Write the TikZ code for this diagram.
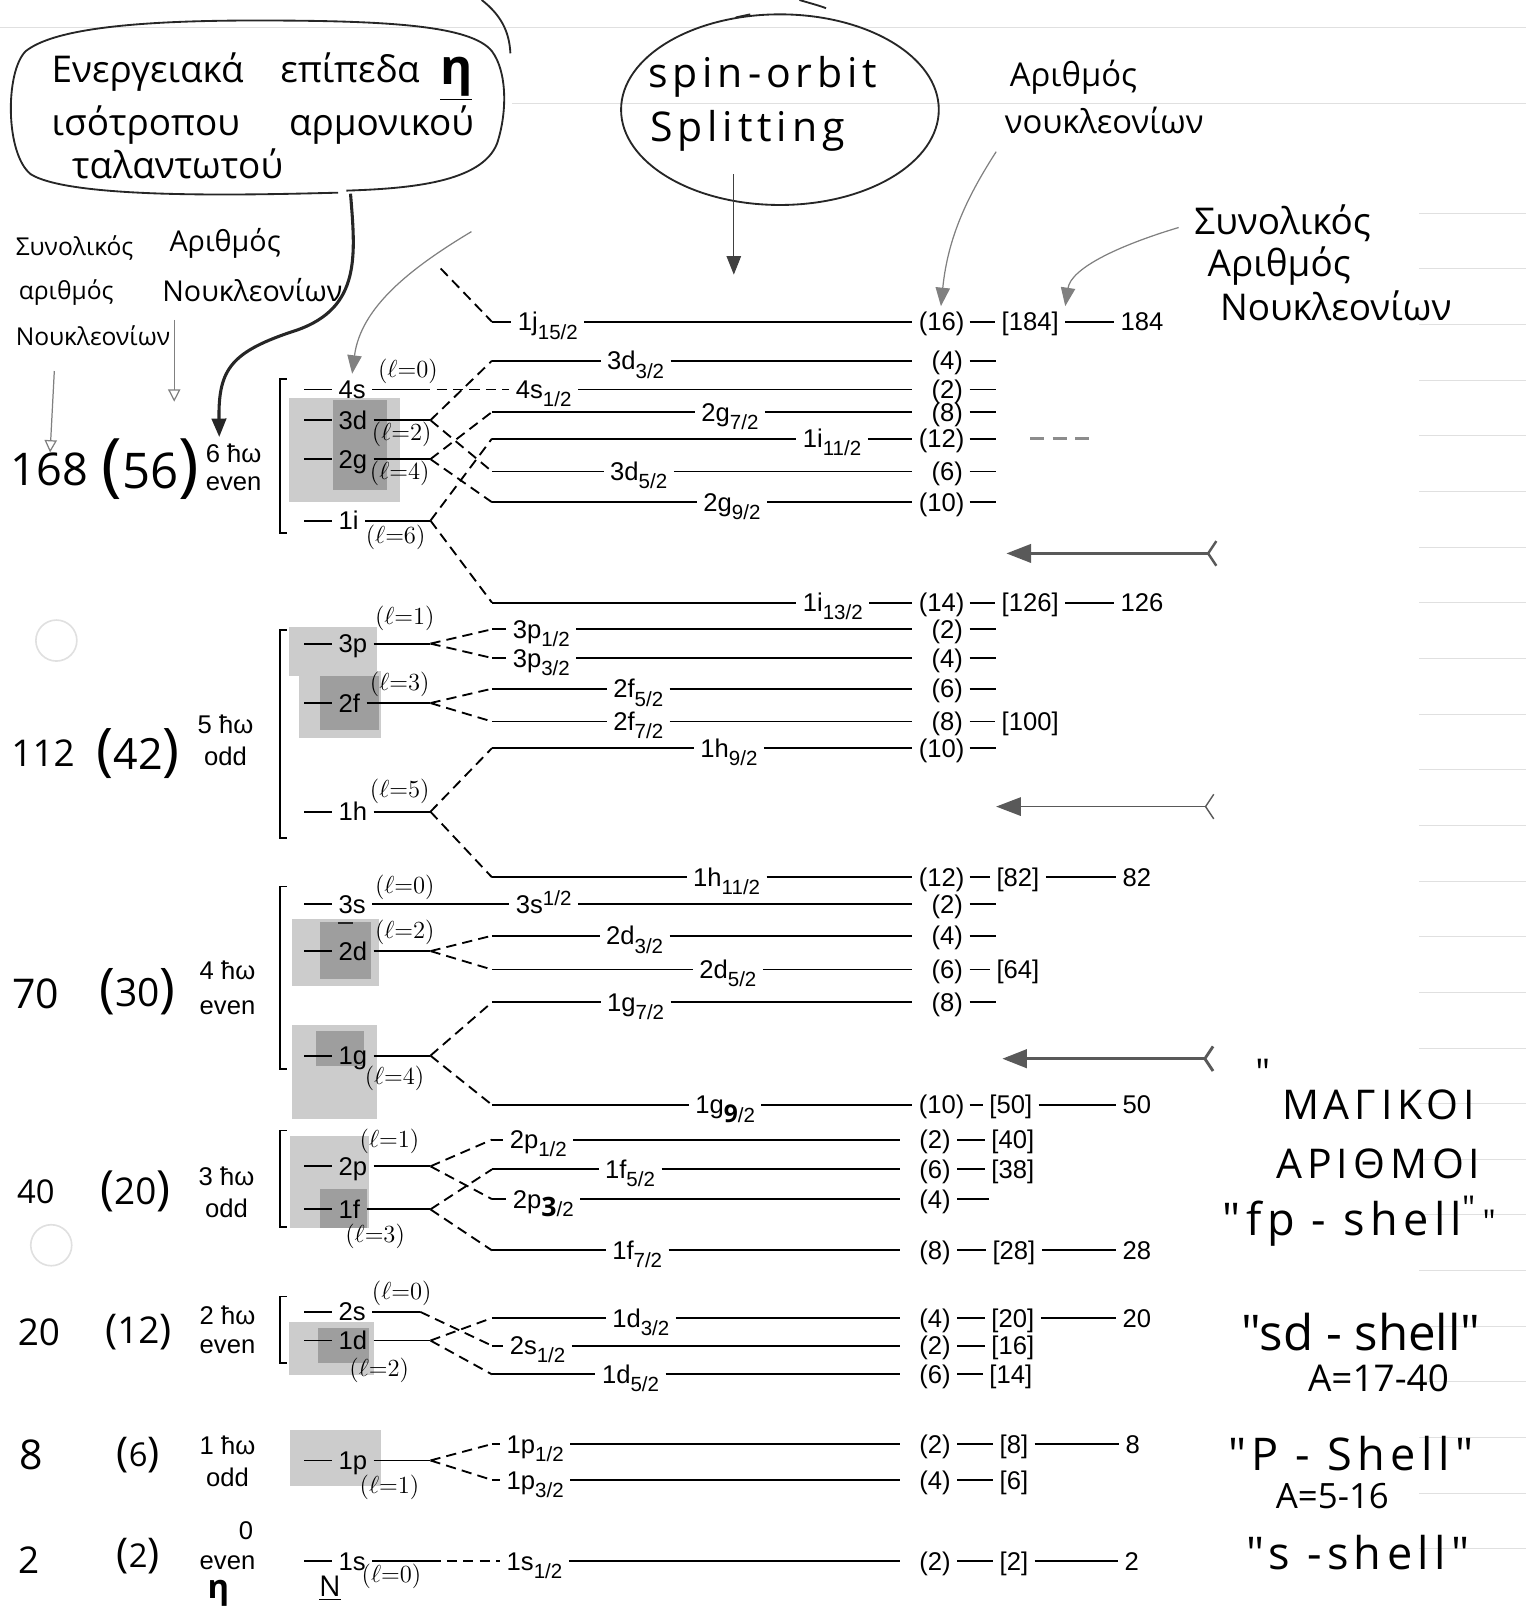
\documentclass[tikz,border=0pt]{standalone}
\usepackage{fontspec}
\setmainfont{Liberation Sans}
\newfontfamily\handfont{Open Sans}
\newfontfamily\handwide{Open Sans}[LetterSpace=12]
\usetikzlibrary{arrows.meta, positioning}

\newcommand{\prt}{\fontsize{12.5}{15}\selectfont}
\newcommand{\subs}[1]{\raisebox{-4pt}{\fontsize{10}{10}\selectfont #1}}
\newcommand{\sups}[1]{\raisebox{3.5pt}{\fontsize{10}{10}\selectfont #1}}
\newcommand{\lval}[1]{$(\ell{=}#1)$}
\newcommand{\hpar}[2]{{\fontsize{#1}{#1}\selectfont #2}}

\tikzset{
  orb/.style={font=\prt, inner sep=3pt, text height=8.9pt, text depth=0pt, anchor=west},
  cnt/.style={orb, anchor=east, text width=21.5pt, align=right},
  lvl/.style={line width=0.9pt},
  spl/.style={line width=0.9pt, dash pattern=on 5pt off 3pt},
  lnote/.style={font=\fontsize{12}{12}\selectfont, inner sep=0pt},
  hw/.style={font=\handfont\fontsize{#1}{#1}\selectfont, inner sep=0pt, anchor=west},
  hwc/.style={font=\handfont\fontsize{#1}{#1}\selectfont, inner sep=0pt},
  hwide/.style={font=\handwide\fontsize{#1}{#1}\selectfont, inner sep=0pt},
  shellE/.style={font=\prt, inner sep=0pt},
  patchL/.style={fill=black!20},
  patchD/.style={fill=black!38},
  ink/.style={line width=0.9pt, black!85},
  pencil/.style={line width=0.6pt, black!50},
  rule/.style={line width=0.4pt, black!12},
  tipD/.style={-{Triangle[length=9pt,width=7pt]}},
  tipO/.style={-{Triangle[open,length=6pt,width=6pt]}},
  bigarrow/.style={black!65, {Straight Barb[reversed,length=4pt,width=12pt]}-{Triangle[length=12pt,width=9pt]}},
}

\begin{document}
\begin{tikzpicture}[x=0.5pt, y=-0.5pt]
  \useasboundingbox (0,0) rectangle (1489,1568);
  %% notebook ruling and punch holes
  \draw[rule] (0,27) -- (1489,27);
  \draw[rule] (500,101) -- (1489,101);
  \foreach \yy in {208,262.3,...,1513} \draw[rule] (1385,\yy) -- (1489,\yy);
  \draw[rule, line width=0.8pt] (55,625) circle (20);
  \draw[rule, line width=0.8pt] (50,1215) circle (20);

  %% highlighter patches
  \fill[patchL] (282,388) rectangle (390,490);
  \fill[patchD] (325,390) rectangle (378,478);
  \fill[patchL] (282,612) rectangle (368,660);
  \fill[patchL] (292,655) rectangle (372,720);
  \fill[patchD] (312,660) rectangle (370,712);
  \fill[patchL] (285,897) rectangle (370,962);
  \fill[patchD] (312,900) rectangle (362,955);
  \fill[patchL] (285,1000) rectangle (368,1092);
  \fill[patchD] (308,1006) rectangle (355,1040);
  \fill[patchL] (283,1108) rectangle (360,1198);
  \fill[patchD] (312,1160) rectangle (358,1198);
  \fill[patchL] (282,1290) rectangle (365,1342);
  \fill[patchD] (310,1296) rectangle (360,1330);
  \fill[patchL] (283,1395) rectangle (372,1450);

  %% callouts
  \draw[ink] (338,186) .. controls (400,184) and (470,178) .. (485,140)
     .. controls (495,110) and (495,70) .. (480,50)
     .. controls (460,25) and (380,20) .. (250,20)
     .. controls (120,20) and (50,30) .. (25,50)
     .. controls (5,70) and (5,150) .. (30,170)
     .. controls (70,195) and (250,190) .. (330,188);
  \draw[ink] (470,0) .. controls (488,14) and (497,30) .. (498,52);
  \draw[ink] (761,107) ellipse (155 and 93);
  \draw[ink] (780,0) .. controls (790,3) and (798,5) .. (806,8);
  \draw[ink] (718,17) -- (732,14);
  \node[hw=18] (ttlA) at (50,75) {Ενεργειακά\hspace{18pt}επίπεδα\hspace{10pt}\raisebox{-1pt}{\fontsize{24}{24}\selectfont\underline{\textbf{η}}}};
  \node[hw=18] (ttlB) at (50,122) {ισότροπου\hspace{24pt}αρμονικού};
  \node[hw=18] (ttlC) at (70,160) {ταλαντωτού};
  \node[hwide=20, anchor=west] (soA) at (632,75) {spin-orbit};
  \node[hwide=20, anchor=west] (soB) at (634,128) {Splitting};

  %% column headings
  \node[hw=12] (totA) at (15,242) {Συνολικός};
  \node[hw=12] (totB) at (18,285) {αριθμός};
  \node[hw=12] (totC) at (15,328) {Νουκλεονίων};
  \node[hw=14] (numA) at (165,237) {Αριθμός};
  \node[hw=14] (numB) at (158,283) {Νουκλεονίων};
  \node[hw=16] (rnA) at (985,75) {Αριθμός};
  \node[hw=16] (rnB) at (980,118) {νουκλεονίων};
  \node[hw=18] (rtA) at (1165,218) {Συνολικός};
  \node[hw=18] (rtB) at (1178,260) {Αριθμός};
  \node[hw=18] (rtC) at (1190,298) {Νουκλεονίων};

  %% oscillator shells: totals, degeneracies, N and parity
  \node[hwc=22] (n168) at (48,458) {168};
  \node[hwc=24] (p56) at (147,458) {\hpar{34}{(}56\hpar{34}{)}};
  \node[shellE] (hw6) at (228,442) {6 ħω};
  \node[shellE] (pa6) at (228,472) {even};
  \node[hwc=18] (n112) at (42,735) {112};
  \node[hwc=21] (p42) at (135,735) {\hpar{28}{(}42\hpar{28}{)}};
  \node[shellE] (hw5) at (220,707) {5 ħω};
  \node[shellE] (pa5) at (220,738) {odd};
  \node[hwc=20] (n70) at (35,970) {70};
  \node[hwc=19] (p30) at (134,968) {\hpar{26}{(}30\hpar{26}{)}};
  \node[shellE] (hw4) at (222,947) {4 ħω};
  \node[shellE] (pa4) at (222,983) {even};
  \node[hwc=16] (n40) at (35,1163) {40};
  \node[hwc=18] (p20) at (132,1162) {\hpar{23}{(}20\hpar{23}{)}};
  \node[shellE] (hw3) at (221,1148) {3 ħω};
  \node[shellE] (pa3) at (221,1179) {odd};
  \node[hwc=18] (n20) at (38,1300) {20};
  \node[hwc=18] (p12) at (135,1300) {\hpar{20}{(}12\hpar{20}{)}};
  \node[shellE] (hw2) at (222,1283) {2 ħω};
  \node[shellE] (pa2) at (222,1314) {even};
  \node[hwc=20] (n8) at (30,1420) {8};
  \node[hwc=16] (p6) at (135,1420) {\hpar{20}{(}6\hpar{20}{)}};
  \node[shellE] (hw1) at (222,1410) {1 ħω};
  \node[shellE] (pa1) at (222,1441) {odd};
  \node[hwc=18] (n2) at (28,1522) {2};
  \node[hwc=16] (p2) at (135,1518) {\hpar{20}{(}2\hpar{20}{)}};
  \node[shellE] (hw0) at (240,1494) {0};
  \node[shellE] (pa0) at (222,1525) {even};

  %% shell brackets
  \draw[lvl] (280,370) -- (273,370) -- (273,520) -- (280,520);
  \draw[lvl] (280,615) -- (273,615) -- (273,818) -- (280,818);
  \draw[lvl] (280,865) -- (273,865) -- (273,1043) -- (280,1043);
  \draw[lvl] (280,1103) -- (273,1103) -- (273,1197) -- (280,1197);
  \draw[lvl] (280,1265) -- (273,1265) -- (273,1330) -- (280,1330);

  %% split levels (right)
  \coordinate (a1) at (480,314);
  \node[orb] (o1) at (499,314) {1j\subs{15/2}};
  \node[cnt] (c1) at (946,314) {(16)};
  \node[orb] (b1) at (971,314) {[184]};
  \node[orb] (m1) at (1087,314) {184};
  \draw[lvl] (a1) -- (o1) (o1) -- (c1) (c1) -- (b1) (b1) -- (m1);

  \coordinate (a2) at (480,352);
  \node[orb] (o2) at (586,352) {3d\subs{3/2}};
  \node[cnt] (c2) at (946,352) {(4)};
  \coordinate (e2) at (972,352);
  \draw[lvl] (a2) -- (o2) (o2) -- (c2) (c2) -- (e2);

  \node[orb] (o3) at (497,380) {4s\subs{1/2}};
  \node[cnt] (c3) at (946,380) {(2)};
  \coordinate (e3) at (972,380);
  \draw[lvl] (o3) -- (c3) (c3) -- (e3);

  \coordinate (a4) at (480,402);
  \node[orb] (o4) at (678,402) {2g\subs{7/2}};
  \node[cnt] (c4) at (946,402) {(8)};
  \coordinate (e4) at (972,402);
  \draw[lvl] (a4) -- (o4) (o4) -- (c4) (c4) -- (e4);

  \coordinate (a5) at (480,428);
  \node[orb] (o5) at (777,428) {1i\subs{11/2}};
  \node[cnt] (c5) at (946,428) {(12)};
  \coordinate (e5) at (972,428);
  \draw[lvl] (a5) -- (o5) (o5) -- (c5) (c5) -- (e5);

  \coordinate (a6) at (480,460);
  \node[orb] (o6) at (589,460) {3d\subs{5/2}};
  \node[cnt] (c6) at (946,460) {(6)};
  \coordinate (e6) at (972,460);
  \draw[lvl] (a6) -- (o6) (o6) -- (c6) (c6) -- (e6);

  \coordinate (a7) at (480,490);
  \node[orb] (o7) at (680,490) {2g\subs{9/2}};
  \node[cnt] (c7) at (946,490) {(10)};
  \coordinate (e7) at (972,490);
  \draw[lvl] (a7) -- (o7) (o7) -- (c7) (c7) -- (e7);

  \coordinate (a8) at (480,588);
  \node[orb] (o8) at (777,588) {1i\subs{13/2}};
  \node[cnt] (c8) at (946,588) {(14)};
  \node[orb] (b8) at (971,588) {[126]};
  \node[orb] (m8) at (1087,588) {126};
  \draw[lvl] (a8) -- (o8) (o8) -- (c8) (c8) -- (b8) (b8) -- (m8);

  \coordinate (a9) at (480,614);
  \node[orb] (o9) at (494,614) {3p\subs{1/2}};
  \node[cnt] (c9) at (946,614) {(2)};
  \coordinate (e9) at (972,614);
  \draw[lvl] (a9) -- (o9) (o9) -- (c9) (c9) -- (e9);

  \coordinate (a10) at (480,642);
  \node[orb] (o10) at (494,642) {3p\subs{3/2}};
  \node[cnt] (c10) at (946,642) {(4)};
  \coordinate (e10) at (972,642);
  \draw[lvl] (a10) -- (o10) (o10) -- (c10) (c10) -- (e10);

  \coordinate (a11) at (480,672);
  \node[orb] (o11) at (592,672) {2f\subs{5/2}};
  \node[cnt] (c11) at (946,672) {(6)};
  \coordinate (e11) at (972,672);
  \draw[lvl] (a11) -- (o11) (o11) -- (c11) (c11) -- (e11);

  \coordinate (a12) at (480,704);
  \node[orb] (o12) at (592,704) {2f\subs{7/2}};
  \node[cnt] (c12) at (946,704) {(8)};
  \node[orb] (b12) at (971,704) {[100]};
  \draw[lvl] (a12) -- (o12) (o12) -- (c12) (c12) -- (b12);

  \coordinate (a13) at (480,730);
  \node[orb] (o13) at (677,730) {1h\subs{9/2}};
  \node[cnt] (c13) at (946,730) {(10)};
  \coordinate (e13) at (972,730);
  \draw[lvl] (a13) -- (o13) (o13) -- (c13) (c13) -- (e13);

  \coordinate (a14) at (480,856);
  \node[orb] (o14) at (670,856) {1h\subs{11/2}};
  \node[cnt] (c14) at (946,856) {(12)};
  \node[orb] (b14) at (966,856) {[82]};
  \node[orb] (m14) at (1089,856) {82};
  \draw[lvl] (a14) -- (o14) (o14) -- (c14) (c14) -- (b14) (b14) -- (m14);

  \node[orb] (o15) at (497,882) {3s\sups{1/2}};
  \node[cnt] (c15) at (946,882) {(2)};
  \coordinate (e15) at (972,882);
  \draw[lvl] (o15) -- (c15) (c15) -- (e15);

  \coordinate (a16) at (480,913);
  \node[orb] (o16) at (585,913) {2d\subs{3/2}};
  \node[cnt] (c16) at (946,913) {(4)};
  \coordinate (e16) at (972,913);
  \draw[lvl] (a16) -- (o16) (o16) -- (c16) (c16) -- (e16);

  \coordinate (a17) at (480,946);
  \node[orb] (o17) at (676,946) {2d\subs{5/2}};
  \node[cnt] (c17) at (946,946) {(6)};
  \node[orb] (b17) at (966,946) {[64]};
  \draw[lvl] (a17) -- (o17) (o17) -- (c17) (c17) -- (b17);

  \coordinate (a18) at (480,978);
  \node[orb] (o18) at (586,978) {1g\subs{7/2}};
  \node[cnt] (c18) at (946,978) {(8)};
  \coordinate (e18) at (972,978);
  \draw[lvl] (a18) -- (o18) (o18) -- (c18) (c18) -- (e18);

  \coordinate (a19) at (480,1078);
  \node[orb] (o19) at (672,1078) {1g\subs{{\handfont\bfseries\fontsize{12}{12}\selectfont 9}/2}};
  \node[cnt] (c19) at (946,1078) {(10)};
  \node[orb] (b19) at (959,1078) {[50]};
  \node[orb] (m19) at (1089,1078) {50};
  \draw[lvl] (a19) -- (o19) (o19) -- (c19) (c19) -- (b19) (b19) -- (m19);

  \coordinate (a20) at (480,1112);
  \node[orb] (o20) at (491,1112) {2p\subs{1/2}};
  \node[cnt] (c20) at (934,1112) {(2)};
  \node[orb] (b20) at (961,1112) {[40]};
  \draw[lvl] (a20) -- (o20) (o20) -- (c20) (c20) -- (b20);

  \coordinate (a21) at (480,1141);
  \node[orb] (o21) at (584,1141) {1f\subs{5/2}};
  \node[cnt] (c21) at (934,1141) {(6)};
  \node[orb] (b21) at (961,1141) {[38]};
  \draw[lvl] (a21) -- (o21) (o21) -- (c21) (c21) -- (b21);

  \coordinate (a22) at (480,1170);
  \node[orb] (o22) at (494,1170) {2p\subs{{\handfont\bfseries\fontsize{13}{13}\selectfont 3}/2}};
  \node[cnt] (c22) at (934,1170) {(4)};
  \coordinate (e22) at (965,1170);
  \draw[lvl] (a22) -- (o22) (o22) -- (c22) (c22) -- (e22);

  \coordinate (a23) at (480,1220);
  \node[orb] (o23) at (591,1220) {1f\subs{7/2}};
  \node[cnt] (c23) at (934,1220) {(8)};
  \node[orb] (b23) at (962,1220) {[28]};
  \node[orb] (m23) at (1089,1220) {28};
  \draw[lvl] (a23) -- (o23) (o23) -- (c23) (c23) -- (b23) (b23) -- (m23);

  \coordinate (a24) at (480,1286);
  \node[orb] (o24) at (591,1286) {1d\subs{3/2}};
  \node[cnt] (c24) at (934,1286) {(4)};
  \node[orb] (b24) at (961,1286) {[20]};
  \node[orb] (m24) at (1089,1286) {20};
  \draw[lvl] (a24) -- (o24) (o24) -- (c24) (c24) -- (b24) (b24) -- (m24);

  \coordinate (a25) at (480,1313);
  \node[orb] (o25) at (491,1313) {2s\subs{1/2}};
  \node[cnt] (c25) at (934,1313) {(2)};
  \node[orb] (b25) at (961,1313) {[16]};
  \draw[lvl] (a25) -- (o25) (o25) -- (c25) (c25) -- (b25);

  \coordinate (a26) at (480,1341);
  \node[orb] (o26) at (581,1341) {1d\subs{5/2}};
  \node[cnt] (c26) at (934,1341) {(6)};
  \node[orb] (b26) at (959,1341) {[14]};
  \draw[lvl] (a26) -- (o26) (o26) -- (c26) (c26) -- (b26);

  \coordinate (a27) at (480,1409);
  \node[orb] (o27) at (488,1409) {1p\subs{1/2}};
  \node[cnt] (c27) at (934,1409) {(2)};
  \node[orb] (b27) at (969,1409) {[8]};
  \node[orb] (m27) at (1092,1409) {8};
  \draw[lvl] (a27) -- (o27) (o27) -- (c27) (c27) -- (b27) (b27) -- (m27);

  \coordinate (a28) at (480,1444);
  \node[orb] (o28) at (488,1444) {1p\subs{3/2}};
  \node[cnt] (c28) at (934,1444) {(4)};
  \node[orb] (b28) at (969,1444) {[6]};
  \draw[lvl] (a28) -- (o28) (o28) -- (c28) (c28) -- (b28);

  \node[orb] (o29) at (488,1523) {1s\subs{1/2}};
  \node[cnt] (c29) at (934,1523) {(2)};
  \node[orb] (b29) at (969,1523) {[2]};
  \node[orb] (m29) at (1091,1523) {2};
  \draw[lvl] (o29) -- (c29) (c29) -- (b29) (b29) -- (m29);

  %% oscillator levels (left) and spin-orbit splitting
  \coordinate (j0) at (430,262);
  \draw[spl] (j0) -- (a1);

  \coordinate (d4s) at (297,380);
  \node[orb] (L4s) at (324,380) {4s};
  \coordinate (k4s) at (410,380);
  \draw[lvl] (d4s) -- (L4s) (L4s) -- (k4s);
  \draw[spl] (k4s) -- (o3);

  \coordinate (d3d) at (297,410);
  \node[orb] (L3d) at (324,410) {3d};
  \coordinate (k3d) at (420,410);
  \draw[lvl] (d3d) -- (L3d) (L3d) -- (k3d);
  \draw[spl] (k3d) -- (a2) (k3d) -- (a6);

  \coordinate (d2g) at (297,448);
  \node[orb] (L2g) at (324,448) {2g};
  \coordinate (k2g) at (420,448);
  \draw[lvl] (d2g) -- (L2g) (L2g) -- (k2g);
  \draw[spl] (k2g) -- (a4) (k2g) -- (a7);

  \coordinate (d1i) at (297,508);
  \node[orb] (L1i) at (324,508) {1i};
  \coordinate (k1i) at (420,508);
  \draw[lvl] (d1i) -- (L1i) (L1i) -- (k1i);
  \draw[spl] (k1i) -- (a5) (k1i) -- (a8);

  \coordinate (d3p) at (297,628);
  \node[orb] (L3p) at (324,628) {3p};
  \coordinate (k3p) at (420,628);
  \draw[lvl] (d3p) -- (L3p) (L3p) -- (k3p);
  \draw[spl] (k3p) -- (a9) (k3p) -- (a10);

  \coordinate (d2f) at (297,686);
  \node[orb] (L2f) at (324,686) {2f};
  \coordinate (k2f) at (420,686);
  \draw[lvl] (d2f) -- (L2f) (L2f) -- (k2f);
  \draw[spl] (k2f) -- (a11) (k2f) -- (a12);

  \coordinate (d1h) at (297,792);
  \node[orb] (L1h) at (324,792) {1h};
  \coordinate (k1h) at (420,792);
  \draw[lvl] (d1h) -- (L1h) (L1h) -- (k1h);
  \draw[spl] (k1h) -- (a13) (k1h) -- (a14);

  \coordinate (d3s) at (297,882);
  \node[orb] (L3s) at (324,882) {3s};
  \draw[lvl] (d3s) -- (L3s) (L3s) -- (o15);
  \draw[ink] ([xshift=3pt,yshift=-1.5pt]L3s.south west) -- ++(7pt,0);

  \coordinate (d2d) at (297,928);
  \node[orb] (L2d) at (324,928) {2d};
  \coordinate (k2d) at (420,928);
  \draw[lvl] (d2d) -- (L2d) (L2d) -- (k2d);
  \draw[spl] (k2d) -- (a16) (k2d) -- (a17);

  \coordinate (d1g) at (297,1030);
  \node[orb] (L1g) at (324,1030) {1g};
  \coordinate (k1g) at (420,1030);
  \draw[lvl] (d1g) -- (L1g) (L1g) -- (k1g);
  \draw[spl] (k1g) -- (a18) (k1g) -- (a19);

  \coordinate (d2p) at (297,1138);
  \node[orb] (L2p) at (324,1138) {2p};
  \coordinate (k2p) at (420,1138);
  \draw[lvl] (d2p) -- (L2p) (L2p) -- (k2p);
  \draw[spl] (k2p) -- (a20) (k2p) -- (a22);

  \coordinate (d1f) at (297,1180);
  \node[orb] (L1f) at (324,1180) {1f};
  \coordinate (k1f) at (420,1180);
  \draw[lvl] (d1f) -- (L1f) (L1f) -- (k1f);
  \draw[spl] (k1f) -- (a21) (k1f) -- (a23);

  \coordinate (d2s) at (297,1280);
  \node[orb] (L2s) at (324,1280) {2s};
  \coordinate (k2s) at (410,1280);
  \draw[lvl] (d2s) -- (L2s) (L2s) -- (k2s);
  \draw[spl] (k2s) -- (a25);

  \coordinate (d1d) at (297,1308);
  \node[orb] (L1d) at (324,1308) {1d};
  \coordinate (k1d) at (420,1308);
  \draw[lvl] (d1d) -- (L1d) (L1d) -- (k1d);
  \draw[spl] (k1d) -- (a24) (k1d) -- (a26);

  \coordinate (d1p) at (297,1425);
  \node[orb] (L1p) at (324,1425) {1p};
  \coordinate (k1p) at (420,1425);
  \draw[lvl] (d1p) -- (L1p) (L1p) -- (k1p);
  \draw[spl] (k1p) -- (a27) (k1p) -- (a28);

  \coordinate (d1s) at (297,1523);
  \node[orb] (L1s) at (324,1523) {1s};
  \coordinate (k1s) at (420,1523);
  \draw[lvl] (d1s) -- (L1s) (L1s) -- (k1s);
  \draw[spl] (k1s) -- (o29);

  %% handwritten l values
  \node[lnote] (l4s) at (398,362) {\lval{0}};
  \node[lnote] (l3d) at (392,424) {\lval{2}};
  \node[lnote] (l2g) at (390,462) {\lval{4}};
  \node[lnote] (l1i) at (386,524) {\lval{6}};
  \node[lnote] (l3p) at (395,603) {\lval{1}};
  \node[lnote] (l2f) at (390,668) {\lval{3}};
  \node[lnote] (l1h) at (390,772) {\lval{5}};
  \node[lnote] (l3s) at (395,866) {\lval{0}};
  \node[lnote] (l2d) at (395,910) {\lval{2}};
  \node[lnote] (l1g) at (385,1052) {\lval{4}};
  \node[lnote] (l2p) at (380,1114) {\lval{1}};
  \node[lnote] (l1f) at (366,1206) {\lval{3}};
  \node[lnote] (l2s) at (392,1262) {\lval{0}};
  \node[lnote] (l1d) at (370,1337) {\lval{2}};
  \node[lnote] (l1p) at (380,1451) {\lval{1}};
  \node[lnote] (l1s) at (382,1538) {\lval{0}};

  %% handwritten arrows
  \coordinate (t1) at (53,362);
  \draw[pencil, tipO] (t1) -- (n168);
  \coordinate (t2) at (170,312);
  \draw[pencil, tipO, shorten >=18pt] (t2) -- (t2 |- p56.north);
  \coordinate (bt) at (342,189);
  \draw[ink, line width=1.5pt, tipD, shorten >=3pt] (bt) .. controls (347,250) and (352,300) .. (290,322)
     .. controls (225,343) and (213,360) .. ([xshift=-7pt]hw6.north);
  \coordinate (gs) at (460,226);
  \draw[pencil, tipD] (gs) .. controls (400,262) and (352,300) .. (L4s.north);
  \coordinate (so1) at (716,170);
  \coordinate (so2) at (716,268);
  \draw[pencil, black!75, tipD] (so1) -- (so2);
  \coordinate (rn1) at (972,148);
  \draw[pencil, tipD] (rn1) .. controls (945,190) and (925,230) .. (c1.north);
  \coordinate (rt1) at (1150,222);
  \draw[pencil, tipD] (rt1) .. controls (1090,240) and (1045,262) .. (b1.north east);
  \coordinate (g1s) at (1188,540);
  \coordinate (g1e) at (982,540);
  \draw[bigarrow, line width=1.2pt] (g1s) -- (g1e);
  \coordinate (g2s) at (1185,787);
  \coordinate (g2e) at (972,787);
  \draw[bigarrow, line width=0.7pt] (g2s) -- (g2e);
  \coordinate (g3s) at (1185,1033);
  \coordinate (g3e) at (978,1033);
  \draw[bigarrow, line width=1.4pt] (g3s) -- (g3e);
  \draw[black!45, line width=1.4pt, dash pattern=on 7pt off 4pt] (1005,428) -- (1065,428);

  %% magic numbers notes
  \node[hwc=18] (qA) at (1232,1046) {"};
  \node[hwide=20] (mgA) at (1345,1078) {ΜΑΓΙΚΟΙ};
  \node[hwide=20] (mgB) at (1345,1136) {ΑΡΙΘΜΟΙ};
  \node[hwide=22] (fpS) at (1310,1194) {"fp - shell};
  \node[hwc=16] (qB) at (1433,1178) {"};
  \node[hwc=16] (qC) at (1453,1192) {"};
  \node[hwc=24] (sdS) at (1328,1300) {"sd - shell"};
  \node[hwc=18] (sdA) at (1345,1345) {A=17-40};
  \node[hwide=22] (pS) at (1318,1418) {"P - Shell"};
  \node[hwc=17] (pA) at (1300,1460) {A=5-16};
  \node[hwide=22] (sS) at (1325,1515) {"s -shell"};

  %% bottom marks
  \node[hwc=16] (etaB) at (213,1557) {\underline{\textbf{η}}};
  \node[hwc=14] (nB) at (322,1550) {\underline{N}};
\end{tikzpicture}
\end{document}
